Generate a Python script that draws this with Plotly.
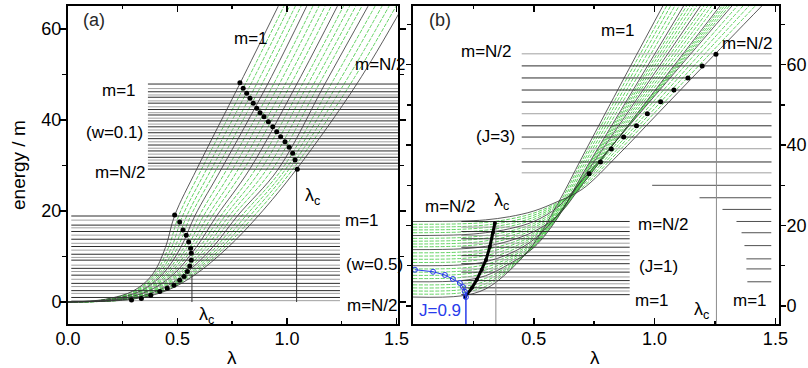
import plotly.graph_objects as go

W, H = 808, 368

# ---------------- panel (a) data ----------------
# energy levels at which the curve family is sampled
E_a = [0, 0.6, 2.5, 6, 12, 19, 29.2, 48, 65]
# black curves (lambda at each level), m=1 ... m=N/2
black_a = [
    [0, 0.17, 0.30, 0.385, 0.445, 0.487, 0.588, 0.785, 0.96],
    [0, 0.20, 0.335, 0.43, 0.515, 0.58, 0.70, 0.913, 1.09],
    [0, 0.23, 0.37, 0.48, 0.585, 0.68, 0.83, 1.046, 1.23],
    [0, 0.26, 0.41, 0.53, 0.66, 0.775, 0.96, 1.174, 1.37],
    [0, 0.29, 0.45, 0.58, 0.73, 0.87, 1.044, 1.32, 1.53],
]
green_a = [
    [0, .176, .307, .394, .459, .506, .610, .811, .986],
    [0, .182, .314, .403, .473, .524, .633, .836, 1.012],
    [0, .188, .321, .412, .487, .543, .655, .862, 1.038],
    [0, .194, .328, .421, .501, .561, .678, .887, 1.064],
    [0, .206, .342, .44, .529, .60, .726, .940, 1.118],
    [0, .212, .349, .45, .543, .62, .752, .966, 1.146],
    [0, .218, .356, .46, .557, .64, .778, .993, 1.174],
    [0, .224, .363, .47, .571, .66, .804, 1.019, 1.202],
    [0, .236, .378, .49, .60, .699, .856, 1.072, 1.258],
    [0, .242, .386, .50, .615, .718, .882, 1.097, 1.286],
    [0, .248, .394, .51, .63, .737, .908, 1.123, 1.314],
    [0, .254, .402, .52, .645, .756, .934, 1.148, 1.342],
    [0, .266, .418, .54, .674, .794, .977, 1.203, 1.402],
    [0, .272, .426, .55, .688, .813, .994, 1.232, 1.434],
    [0, .278, .434, .56, .702, .832, 1.010, 1.262, 1.466],
    [0, .284, .442, .57, .716, .851, 1.027, 1.291, 1.498],
]
# horizontal levels (w=0.5), lambda span
w05_black = [18.9, 16.9, 15.5, 13.8, 12.2, 10.5, 9.2, 7.4, 5.9, 4.1, 2.5, 1.0]
w05_gray = [18.0, 16.3, 14.7, 12.9, 11.4, 9.8, 8.1, 6.7, 5.0, 3.4, 1.9, 0.3]
w05_span = [0.015, 1.242]
# horizontal levels (w=0.1)
w01_black = [47.9, 46.2, 45.0, 43.7, 42.3, 41.1, 39.8, 38.5, 37.2, 35.9, 34.5, 33.2, 31.8, 30.5, 29.2]
w01_gray = [46.9, 45.5, 44.2, 42.9, 41.6, 40.4, 39.1, 37.8, 36.5, 35.2, 33.8, 32.5, 31.2, 29.9]
w01_span = [0.365, 1.51]
# crossing dots
dots_a_up_x = [0.785, 0.800, 0.816, 0.831, 0.846, 0.862, 0.877, 0.895, 0.915, 0.935, 0.953, 0.971, 0.991, 1.010, 1.026, 1.037, 1.047]
dots_a_up_y = [48.2, 47.0, 45.9, 44.8, 43.7, 42.6, 41.6, 40.7, 39.6, 38.5, 37.4, 36.3, 35.2, 34.0, 32.7, 31.2, 29.2]
dots_a_lo_x = [0.487, 0.510, 0.525, 0.540, 0.551, 0.560, 0.563, 0.563, 0.556, 0.545, 0.530, 0.510, 0.484, 0.453, 0.419, 0.378, 0.335, 0.29]
dots_a_lo_y = [19.1, 17.6, 15.8, 14.7, 13.2, 11.8, 10.7, 9.2, 7.9, 6.7, 5.6, 4.8, 3.7, 3.0, 2.3, 1.5, 0.8, 0.45]
lamc_a = [0.566, 1.044]
lamc_a_top = [6.0, 29.2]

# ---------------- panel (b) data ----------------
L_b = [0, 0.2, 0.3, 0.4, 0.5, 0.6, 0.7, 0.85, 1.0, 1.2, 1.45]
black_b = [
    [2.2, 2.5, 4.2, 8.8, 15.5, 25.5, 37.0, 54.0, 70.8, 93.0, 120.8],
    [6.0, 6.3, 7.5, 10.5, 14.5, 22.0, 32.6, 47.6, 62.6, 82.6, 107.6],
    [10.0, 10.2, 11.0, 13.0, 16.5, 22.7, 31.5, 44.7, 57.9, 75.5, 97.5],
    [14.0, 14.2, 14.8, 16.2, 18.5, 22.5, 30.1, 41.8, 53.5, 69.1, 88.6],
    [17.5, 17.7, 18.2, 19.2, 21.0, 24.6, 31.2, 41.7, 52.2, 66.2, 83.7],
    [21.0, 21.1, 21.4, 22.2, 23.6, 26.0, 29.0, 37.6, 47.0, 59.5, 75.0],
]
green_b = [
    [2.96, 3.26, 4.86, 9.14, 15.3, 24.8, 36.12, 52.72, 69.16, 90.92, 118.16],
    [3.72, 4.02, 5.52, 9.48, 15.1, 24.1, 35.24, 51.44, 67.52, 88.84, 115.52],
    [4.48, 4.78, 6.18, 9.82, 14.9, 23.4, 34.36, 50.16, 65.88, 86.76, 112.88],
    [5.24, 5.54, 6.84, 10.16, 14.7, 22.7, 33.48, 48.88, 64.24, 84.68, 110.24],
    [6.8, 7.08, 8.2, 11.0, 14.9, 22.14, 32.38, 47.02, 61.66, 81.18, 105.58],
    [7.6, 7.86, 8.9, 11.5, 15.3, 22.28, 32.16, 46.44, 60.72, 79.76, 103.56],
    [8.4, 8.64, 9.6, 12.0, 15.7, 22.42, 31.94, 45.86, 59.78, 78.34, 101.54],
    [9.2, 9.42, 10.3, 12.5, 16.1, 22.56, 31.72, 45.28, 58.84, 76.92, 99.52],
    [10.8, 11.0, 11.76, 13.64, 16.9, 22.66, 31.22, 44.12, 57.02, 74.22, 95.72],
    [11.6, 11.8, 12.52, 14.28, 17.3, 22.62, 30.94, 43.54, 56.14, 72.94, 93.94],
    [12.4, 12.6, 13.28, 14.92, 17.7, 22.58, 30.66, 42.96, 55.26, 71.66, 92.16],
    [13.2, 13.4, 14.04, 15.56, 18.1, 22.54, 30.38, 42.38, 54.38, 70.38, 90.38],
    [14.7, 14.9, 15.48, 16.8, 19.0, 22.92, 30.32, 41.78, 53.24, 68.52, 87.62],
    [15.4, 15.6, 16.16, 17.4, 19.5, 23.34, 30.54, 41.76, 52.98, 67.94, 86.64],
    [16.1, 16.3, 16.84, 18.0, 20.0, 23.76, 30.76, 41.74, 52.72, 67.36, 85.66],
    [16.8, 17.0, 17.52, 18.6, 20.5, 24.18, 30.98, 41.72, 52.46, 66.78, 84.68],
    [18.2, 18.38, 18.84, 19.8, 21.52, 24.88, 30.76, 40.88, 51.16, 64.86, 81.96],
    [18.9, 19.06, 19.48, 20.4, 22.04, 25.16, 30.32, 40.06, 50.12, 63.52, 80.22],
    [19.6, 19.74, 20.12, 21.0, 22.56, 25.44, 29.88, 39.24, 49.08, 62.18, 78.48],
    [20.3, 20.42, 20.76, 21.6, 23.08, 25.72, 29.44, 38.42, 48.04, 60.84, 76.74],
]
j1_black = [2.8, 4.5, 6.3, 8.4, 10.5, 12.5, 14.6, 16.7, 18.5, 21.0]
j1_gray = [3.7, 5.5, 7.2, 9.2, 11.5, 13.4, 15.6, 17.5, 19.6]
j1_span = [0.20, 0.897]
j3_black = [35.8, 42.0, 44.8, 50.7, 53.7, 56.7, 59.7]
j3_gray = [33.1, 39.1, 47.8, 62.7]
j3_span = [0.45, 1.484]
right_levels = [30.0, 26.9, 24.0, 21.0, 18.2, 15.0, 11.7, 9.2, 6.0]
right_start = [0.99, 1.186, 1.281, 1.339, 1.36, 1.372, 1.38, 1.38, 1.384]
right_end = 1.483
dots_b_x = [0.729, 0.776, 0.821, 0.872, 0.925, 0.970, 1.025, 1.080, 1.138, 1.197, 1.254]
dots_b_y = [32.9, 35.8, 39.0, 42.0, 44.8, 47.8, 50.8, 53.7, 56.7, 59.7, 62.6]
lamc_line_x = [0.215, 0.244, 0.264, 0.285, 0.302, 0.318, 0.331, 0.339]
lamc_line_y = [2.2, 4.5, 6.5, 9.0, 11.4, 14.7, 18.2, 20.6]
j09_x = [0.008, 0.083, 0.132, 0.165, 0.194, 0.207, 0.215, 0.219]
j09_y = [9.0, 8.5, 7.7, 6.7, 5.7, 4.7, 3.5, 2.2]
vlines_b = [0.343, 1.256]
vlines_b_top = [21.0, 62.6]
j09_vline = 0.219
j09_vline_top = 3.5

# ---------------- styles ----------------
GREEN = "rgb(80,205,80)"
DARK = "rgb(50,50,50)"
HBLACK = "rgb(45,45,45)"
HGRAY = "rgb(160,160,160)"
BLUE = "rgb(40,60,235)"

fig = go.Figure()


def add(x, y, xa, ya, **kw):
    fig.add_trace(go.Scatter(x=x, y=y, xaxis=xa, yaxis=ya, hoverinfo="skip",
                             showlegend=False, **kw))


def hlines(levels, x0, x1, color, xa, ya, width=1.0):
    xs, ys = [], []
    for i, e in enumerate(levels):
        a = x0[i] if isinstance(x0, list) else x0
        xs += [a, x1, None]
        ys += [e, e, None]
    add(xs, ys, xa, ya, mode="lines", line=dict(color=color, width=width))


# ----- panel a -----
for g in green_a:
    add(g, E_a, "x", "y", mode="lines",
        line=dict(color=GREEN, width=0.9, shape="spline", dash="4px,1.5px"))
hlines(w05_gray, w05_span[0], w05_span[1], HGRAY, "x", "y")
hlines(w05_black, w05_span[0], w05_span[1], HBLACK, "x", "y")
hlines(w01_gray, w01_span[0], w01_span[1], HGRAY, "x", "y")
hlines(w01_black, w01_span[0], w01_span[1], HBLACK, "x", "y")
for b in black_a:
    add(b, E_a, "x", "y", mode="lines", line=dict(color=DARK, width=0.8, shape="spline"))
for lx, ly in zip(lamc_a, lamc_a_top):
    add([lx, lx], [0, ly], "x", "y", mode="lines", line=dict(color=DARK, width=1))
add(dots_a_up_x, dots_a_up_y, "x", "y", mode="markers", marker=dict(color="black", size=5))
add(dots_a_lo_x, dots_a_lo_y, "x", "y", mode="markers", marker=dict(color="black", size=5))

# ----- panel b -----
for g in green_b:
    add(L_b, g, "x2", "y2", mode="lines",
        line=dict(color=GREEN, width=0.9, shape="spline", dash="4px,1.5px"))
hlines(j1_gray, j1_span[0], j1_span[1], HGRAY, "x2", "y2")
hlines(j1_black, j1_span[0], j1_span[1], HBLACK, "x2", "y2")
hlines(j3_gray, j3_span[0], j3_span[1], HGRAY, "x2", "y2")
hlines(j3_black, j3_span[0], j3_span[1], HBLACK, "x2", "y2")
hlines(right_levels, right_start, right_end, "rgb(80,80,80)", "x2", "y2")
for b in black_b:
    add(L_b, b, "x2", "y2", mode="lines", line=dict(color=DARK, width=0.8, shape="spline"))
for vx, vt in zip(vlines_b, vlines_b_top):
    add([vx, vx], [-10, vt], "x2", "y2", mode="lines", line=dict(color="rgb(140,140,140)", width=1))
add(dots_b_x, dots_b_y, "x2", "y2", mode="markers", marker=dict(color="black", size=5))
add(lamc_line_x, lamc_line_y, "x2", "y2", mode="lines+markers",
    line=dict(color="black", width=3), marker=dict(color="black", size=4))
add(j09_x, j09_y, "x2", "y2", mode="lines+markers",
    line=dict(color=BLUE, width=1),
    marker=dict(symbol="circle-open", color=BLUE, size=5, line=dict(width=1)))
add([j09_vline, j09_vline], [-10, j09_vline_top], "x2", "y2", mode="lines",
    line=dict(color=BLUE, width=1.5))

# ---------------- layout ----------------
FONT = "Liberation Sans, Arial, sans-serif"
axis_common = dict(showline=True, linecolor="black", linewidth=2, mirror="ticks",
                   showgrid=False, zeroline=False, automargin=False,
                   tickfont=dict(size=18, color="black", family=FONT), tickcolor="black")
ydom = [1 - 324 / H, 1 - 6 / H]

fig.update_layout(
    width=W, height=H, margin=dict(l=0, r=0, t=0, b=0),
    paper_bgcolor="white", plot_bgcolor="white",
    font=dict(family=FONT, color="black"),
    xaxis=dict(domain=[68 / W, 398 / W], range=[0, 1.507], anchor="y",
               tickmode="linear", tick0=0, dtick=0.5, tickformat=".1f",
               ticks="inside", ticklen=6, tickwidth=1.5, ticklabelstandoff=-3,
               minor=dict(dtick=0.25, tick0=0, ticks="inside", ticklen=3, tickcolor="black"),
               **axis_common),
    yaxis=dict(domain=ydom, range=[-4.83, 65.05], anchor="x",
               tickmode="linear", tick0=0, dtick=20,
               ticks="outside", ticklen=6, tickwidth=1.5, ticklabelstandoff=-5,
               minor=dict(dtick=10, tick0=0, ticks="outside", ticklen=4, tickcolor="black"),
               **axis_common),
    xaxis2=dict(domain=[413 / W, 779 / W], range=[0, 1.515], anchor="y2",
                tickmode="array", tickvals=[0.5, 1.0, 1.5], ticktext=["0.5", "1.0", "1.5"],
                ticks="inside", ticklen=6, tickwidth=1.5, ticklabelstandoff=-3,
                minor=dict(tickmode="array", tickvals=[0.25, 0.75, 1.25], ticks="inside",
                           ticklen=3, tickcolor="black"),
                **axis_common),
    yaxis2=dict(domain=ydom, range=[-4.5, 74.6], anchor="x2", side="right",
                tickmode="linear", tick0=0, dtick=20,
                ticks="outside", ticklen=5, tickwidth=1.5, ticklabelstandoff=-3,
                minor=dict(dtick=10, tick0=0, ticks="outside", ticklen=4, tickcolor="black"),
                **axis_common),
)

LC = "λ<sub>c</sub>"
labels = [
    ("(a)", 94, 20, "rgb(40,40,40)", 18), ("m=1", 251, 38, "black", 17),
    ("m=N/2", 380, 65, "black", 17), ("m=1", 119, 91, "black", 17),
    ("(w=0.1)", 115, 132, "black", 17), ("m=N/2", 120, 173, "black", 17),
    (LC, 312, 196, "black", 18), ("m=1", 362, 221, "black", 17),
    ("(w=0.5)", 374, 264, "black", 17), ("m=N/2", 372, 305, "black", 17),
    (LC, 206, 315, "black", 18),
    ("(b)", 440, 20, "rgb(40,40,40)", 18), ("m=1", 618, 31, "black", 17),
    ("m=N/2", 486, 52, "black", 17), ("m=N/2", 747, 43, "black", 17),
    ("(J=3)", 495, 136, "black", 17), ("m=N/2", 450, 206, "black", 17),
    (LC, 501, 201, "black", 18), ("m=N/2", 663, 224, "black", 17),
    ("(J=1)", 658, 266, "black", 17), ("m=1", 652, 300, "black", 17),
    (LC, 701, 310, "black", 18), ("m=1", 750, 300, "black", 17),
    ("J=0.9", 440, 310, BLUE, 17),
    ("λ", 232, 357, "black", 19), ("λ", 595, 357, "black", 19),
]
for txt, px, py, col, sz in labels:
    fig.add_annotation(text=txt, x=px / W, y=1 - py / H, xref="paper", yref="paper",
                       showarrow=False, xanchor="center", yanchor="middle",
                       font=dict(size=sz, color=col, family=FONT))
fig.add_annotation(text="energy / m", x=18 / W, y=1 - 165 / H, xref="paper", yref="paper",
                   showarrow=False, textangle=-90, xanchor="center", yanchor="middle",
                   font=dict(size=19, color="black", family=FONT))

fig.write_html("out.html", config={"displayModeBar": False, "staticPlot": True},
               post_script="document.body.style.margin='0';document.body.style.padding='0';"
                           "document.documentElement.style.overflow='hidden';")
